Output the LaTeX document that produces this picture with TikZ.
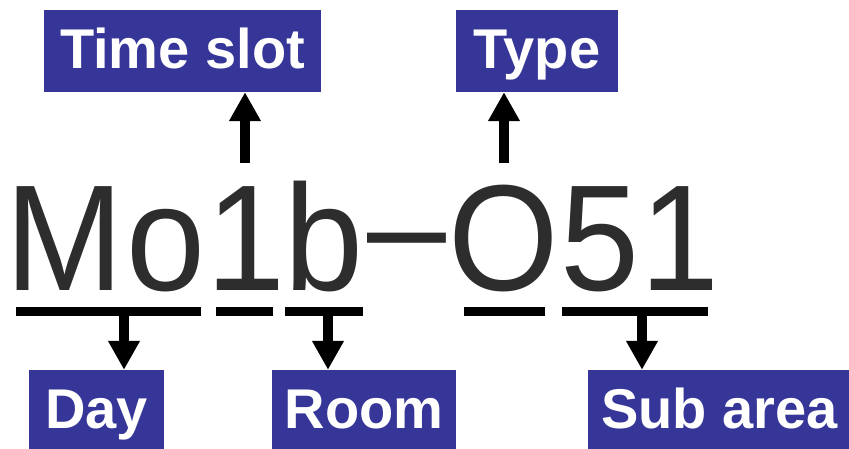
\documentclass[tikz,border=0pt]{standalone}
\usepackage{fontspec}
\setmainfont{Liberation Sans}
\newfontfamily\bigfont{Liberation Sans}[FakeStretch=0.94]
\newfontfamily\labelfont{Liberation Sans}
\usetikzlibrary{arrows.meta}
\definecolor{boxblue}{RGB}{54,54,153}
\definecolor{glyph}{RGB}{45,45,45}
\tikzset{
  lbl/.style={rectangle, fill=boxblue, text=white, inner sep=0pt,
    font=\labelfont\bfseries\fontsize{56}{56}\selectfont,
    minimum height=82pt, text height=44pt, text depth=10pt},
  ul/.style={line width=9.5pt},
  arr/.style={line width=10pt, -{Triangle[width=30pt,length=29pt]}},
}
\begin{document}
\begin{tikzpicture}[x=1pt,y=-1pt]
\useasboundingbox (0,0) rectangle (849,448);
% labels
\node[lbl, minimum width=277pt] (timeslot) at (182.5,51) {Time slot};
\node[lbl, minimum width=162pt] (type) at (537,51) {Type};
\node[lbl, minimum width=135pt] (day) at (96.5,411) {Day};
\node[lbl, minimum width=184pt] (room) at (364,411) {Room};
\node[lbl, minimum width=263pt] (subarea) at (719.5,411) {Sub area};
% code
\node[anchor=base west, inner sep=0pt, text=glyph, font=\bigfont\fontsize{151}{151}\selectfont] (code) at (64,290) {\makebox[0pt]{M}\hspace{101.5pt}\makebox[0pt]{o}\hspace{80.1pt}\makebox[0pt]{1}\hspace{78.5pt}\makebox[0pt]{b}\hspace{82.4pt}\makebox[0pt]{\raisebox{14pt}{–}}\hspace{97.5pt}\makebox[0pt]{O}\hspace{95.8pt}\makebox[0pt]{5}\hspace{80.3pt}\makebox[0pt]{1}};
% underlines
\coordinate (u1a) at (16,311.5);  \coordinate (u1b) at (201,311.5);
\coordinate (u2a) at (216,311.5); \coordinate (u2b) at (273,311.5);
\coordinate (u3a) at (285,311.5); \coordinate (u3b) at (363,311.5);
\coordinate (u4a) at (464,311.5); \coordinate (u4b) at (545,311.5);
\coordinate (u5a) at (562,311.5); \coordinate (u5b) at (708,311.5);
\draw[ul] (u1a) -- (u1b);
\draw[ul] (u2a) -- (u2b);
\draw[ul] (u3a) -- (u3b);
\draw[ul] (u4a) -- (u4b);
\draw[ul] (u5a) -- (u5b);
% arrows
\coordinate (tsfoot) at (245,163);
\coordinate (tyfoot) at (504,163);
\coordinate (dayfoot) at (124,311.5);
\coordinate (roomfoot) at (328,311.5);
\coordinate (subfoot) at (642,311.5);
\draw[arr] (tsfoot) -- (tsfoot |- timeslot.south);
\draw[arr] (tyfoot) -- (tyfoot |- type.south);
\draw[arr] (dayfoot) -- (dayfoot |- day.north);
\draw[arr] (roomfoot) -- (roomfoot |- room.north);
\draw[arr] (subfoot) -- (subfoot |- subarea.north);
\end{tikzpicture}
\end{document}
